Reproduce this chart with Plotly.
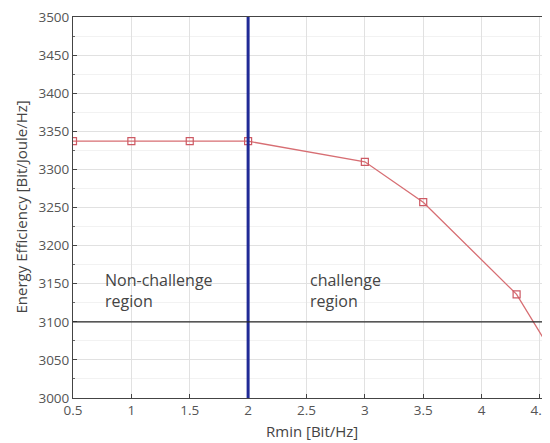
import plotly.graph_objects as go

rmin = [0.5, 1.0, 1.5, 2.0, 3.0, 3.5, 4.3, 5.0]
ee = [3337, 3337, 3337, 3337, 3310, 3257, 3136, 2960]
x_ticks = [0.5, 1, 1.5, 2, 2.5, 3, 3.5, 4, 4.5]
y_ticks = [3000, 3050, 3100, 3150, 3200, 3250, 3300, 3350, 3400, 3450, 3500]
boundary_x = 2
threshold_y = 3100

FONT = "Open Sans, Noto Sans, sans-serif"

fig = go.Figure()
fig.add_trace(go.Scatter(
    x=rmin, y=ee, mode="lines+markers",
    line=dict(color="rgb(215,110,115)", width=1.3),
    marker=dict(symbol="square-open", size=7, color="rgb(205,90,100)", line=dict(width=1.2)),
    showlegend=False, cliponaxis=True,
))

fig.add_shape(type="line", x0=boundary_x, x1=boundary_x, y0=0, y1=1, yref="paper",
              line=dict(color="rgb(32,42,150)", width=3))
fig.add_shape(type="line", x0=0, x1=1, xref="paper", y0=threshold_y, y1=threshold_y,
              line=dict(color="rgb(40,40,40)", width=1.3))

fig.add_annotation(x=0.757, y=3172, text="Non-challenge<br>region", showarrow=False,
                   xanchor="left", yanchor="top", align="left",
                   font=dict(family=FONT, size=16, color="#444"))
fig.add_annotation(x=2.513, y=3172, text="challenge<br>region", showarrow=False,
                   xanchor="left", yanchor="top", align="left",
                   font=dict(family=FONT, size=16, color="#444"))

# axis titles
fig.add_annotation(xref="paper", yref="paper", x=(20 - 73) / 477, y=0.5,
                   text="Energy Efficiency [Bit/Joule/Hz]", textangle=-90, showarrow=False,
                   xanchor="center", yanchor="middle",
                   font=dict(family=FONT, size=15, color="#444"))
fig.add_annotation(xref="paper", yref="paper", x=0.5, y=(398 - 431) / 381,
                   text="Rmin [Bit/Hz]", showarrow=False,
                   xanchor="center", yanchor="middle",
                   font=dict(family=FONT, size=15, color="#444"))

fig.update_layout(
    width=542, height=435,
    margin=dict(l=65, r=0, t=9, b=45),
    paper_bgcolor="white", plot_bgcolor="white",
    font=dict(family=FONT, size=13.5, color="#555"),
)
fig.update_xaxes(
    range=[0.5, 4.586], tickvals=x_ticks, ticktext=[f"{v:g}" for v in x_ticks],
    automargin=False, ticklabeloverflow="allow",
    showline=True, linecolor="#444", linewidth=1, mirror=True,
    ticks="inside", ticklen=4, tickcolor="#444",
    showgrid=True, gridcolor="rgb(225,225,225)", gridwidth=1, zeroline=False,
)
fig.update_yaxes(
    range=[3000, 3500], tickvals=y_ticks, automargin=False, ticklabeloverflow="allow",
    showline=True, linecolor="#444", linewidth=1,
    ticks="inside", ticklen=4, tickcolor="#444",
    showgrid=True, gridcolor="rgb(225,225,225)", gridwidth=1, zeroline=False,
    minor=dict(dtick=25, showgrid=True, gridcolor="rgb(242,242,242)", ticks="inside", ticklen=2, tickcolor="#666"),
)

fig.write_html("out.html")
